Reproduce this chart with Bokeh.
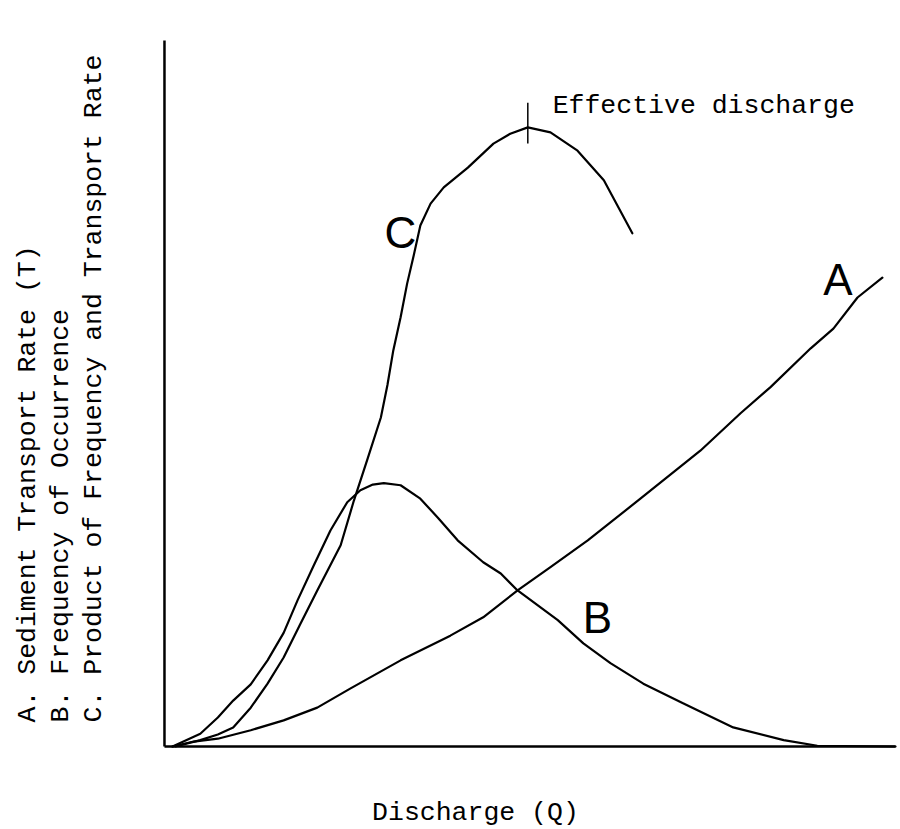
import math

from bokeh.core.properties import value
from bokeh.embed import file_html
from bokeh.models import ColumnDataSource, Range1d
from bokeh.plotting import figure
from bokeh.resources import INLINE

# Curve A: sediment transport rate (T) against discharge (Q)
a_q = [1.1, 4.0, 7.3, 11.8, 16.3, 20.9, 25.4, 32.3, 39.1, 43.6, 48.3, 52.8,
       57.9, 65.1, 73.3, 78.8, 82.9, 88.4, 91.5, 94.8, 98.2]
a_val = [0.0, 0.7, 1.1, 2.3, 3.7, 5.5, 8.2, 12.2, 15.7, 18.3, 22.1, 25.4,
         29.2, 35.1, 41.9, 47.2, 50.9, 56.4, 59.2, 63.6, 66.4]

# Curve B: frequency of occurrence
b_q = [1.1, 4.9, 7.3, 9.4, 11.8, 14.1, 16.3, 18.2, 20.4, 22.7, 25.0, 26.8,
       28.5, 30.0, 32.3, 35.0, 37.4, 40.1, 43.6, 46.0, 48.3, 53.8, 57.3,
       61.0, 65.5, 71.0, 77.8, 84.7, 89.3, 100.0]
b_val = [0.0, 1.8, 4.1, 6.5, 8.8, 12.2, 16.1, 20.7, 25.6, 30.6, 34.6, 36.3,
         37.1, 37.3, 37.0, 35.1, 32.4, 29.2, 26.1, 24.5, 22.1, 17.9, 14.6,
         11.8, 8.9, 6.1, 2.7, 0.9, 0.1, 0.0]

# Curve C: product of frequency and transport rate
c_q = [1.5, 4.9, 7.3, 9.4, 11.8, 14.1, 16.3, 18.6, 20.9, 24.1, 25.9, 27.8,
       29.6, 30.5, 31.3, 32.3, 33.2, 34.1, 35.0, 36.4, 38.2, 41.5, 45.0,
       47.3, 49.7, 52.8, 56.5, 60.1, 64.0]
c_val = [0.0, 0.9, 1.7, 2.7, 5.5, 8.9, 12.6, 17.4, 22.1, 28.5, 34.8, 40.8,
         46.6, 51.2, 56.1, 60.8, 65.6, 69.6, 73.8, 76.9, 79.2, 82.0, 85.4,
         86.8, 87.7, 87.0, 84.4, 80.2, 72.7]

axis_titles = [
    "A.  Sediment Transport Rate (T)",
    "B.  Frequency of Occurrence",
    "C.  Product of Frequency and Transport Rate",
]
x_title = "Discharge (Q)"
peak_title = "Effective discharge"
curve_names = ["A", "B", "C"]

MONO = value("Liberation Mono")
HAND = value("Liberation Sans")
MONO_SIZE = "26.5px"

p = figure(
    width=900, height=829,
    x_range=Range1d(-22.43, 100.68), y_range=Range1d(-11.76, 105.67),
    output_backend="svg", toolbar_location=None,
    min_border=0, min_border_left=0, min_border_right=0,
    min_border_top=0, min_border_bottom=0,
)
p.axis.visible = False
p.grid.visible = False
p.outline_line_color = None
p.background_fill_color = "white"
p.border_fill_color = "white"

# axes drawn as plain strokes meeting at the origin
p.segment(x0=[0, 0], y0=[0, 0], x1=[0, 100], y1=[100, 0],
          line_color="black", line_width=2.5)

for q, v in ((a_q, a_val), (b_q, b_val), (c_q, c_val)):
    p.line(q, v, line_color="black", line_width=2.2,
           line_join="round", line_cap="round")

# marker through the peak of curve C
i_peak = max(range(len(c_val)), key=lambda i: c_val[i])
q_peak, v_peak = c_q[i_peak], c_val[i_peak]
p.segment(x0=[q_peak], y0=[v_peak - 2.3], x1=[q_peak], y1=[v_peak + 3.5],
          line_color="black", line_width=1.5)
p.text(x=[q_peak + 3.4], y=[v_peak + 3.0], text=[peak_title],
       text_font=MONO, text_font_size=MONO_SIZE, text_color="black",
       text_align="left", text_baseline="alphabetic")

# curve letters
letters = ColumnDataSource(dict(
    x=[90.1, 57.2, 30.1],
    y=[66.2, 18.2, 72.8],
    t=curve_names,
))
p.text(x="x", y="y", text="t", source=letters,
       text_font=HAND, text_font_size="44px", text_color="black",
       text_align="left", text_baseline="alphabetic")

# vertical legend of the three quantities
titles = ColumnDataSource(dict(
    x=[-18.6, -14.1, -9.6],
    y=[3.4, 3.4, 3.4],
    t=axis_titles,
))
p.text(x="x", y="y", text="t", source=titles, angle=math.pi / 2,
       text_font=MONO, text_font_size=MONO_SIZE, text_color="black",
       text_align="left", text_baseline="middle")

p.text(x=[28.4], y=[-9.4], text=[x_title],
       text_font=MONO, text_font_size=MONO_SIZE, text_color="black",
       text_align="left", text_baseline="alphabetic")

open("out.html", "w").write(file_html(p, INLINE))
